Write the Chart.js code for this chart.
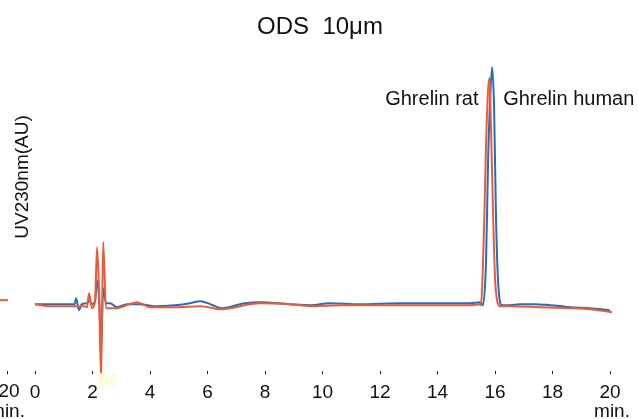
<!DOCTYPE html>
<html lang="en">
<head>
<meta charset="UTF-8" />
<title>ODS 10μm</title>
<script src="https://cdn.jsdelivr.net/npm/chart.js"></script>
<style>
  html, body { margin: 0; padding: 0; background: #fff; }
  #wrap { width: 638px; height: 419px; position: relative; }
</style>
</head>
<body>
<div id="wrap"><canvas id="chroma" width="638" height="419"></canvas></div>
<script>
// retention time (min) and absorbance (mAU, baseline = 0)
const humanTime = [0, 1.0, 1.38, 1.43, 1.53, 1.63, 1.81, 1.88, 1.98, 2.09, 2.16, 2.23, 2.30, 2.37, 2.47, 2.61, 2.85, 3.20, 3.65, 4.17, 4.87, 5.40, 5.74, 6.00, 6.26, 6.50, 7.30, 7.83, 8.87, 9.57, 10.26, 11.30, 12.70, 13.74, 15.13, 15.48, 15.58, 15.69, 15.76, 15.83, 15.90, 15.97, 16.03, 16.10, 16.24, 16.52, 16.87, 17.39, 17.91, 18.61, 19.30, 20.0];
const humanAU   = [0, 0, 0, 6, -6, 0, 1, 4, 0, 3, 24, 5, -43, 16, 1, 1, -3, 0, 0, -2, -1, 1, 3, 1, -2, -4, 1, 2, 0, -1, 1, 0, 1, 1, 1, 2, -1, 44, 144, 204, 237, 194, 94, 27, -1, -1, 0, 0, -1, -3, -4, -6];

const ratTime = [0, 0.5, 1.43, 1.53, 1.70, 1.81, 1.88, 1.98, 2.09, 2.16, 2.23, 2.30, 2.37, 2.47, 2.61, 2.85, 3.20, 3.55, 4.00, 4.87, 5.74, 6.50, 7.48, 7.83, 8.87, 9.57, 10.61, 12.0, 13.39, 15.13, 15.48, 15.51, 15.62, 15.69, 15.76, 15.81, 15.86, 15.93, 16.00, 16.07, 16.17, 16.52, 17.57, 18.61, 19.30, 20.07];
const ratAU   = [0, -2, -2, -2, -2, -3, 11, -4, 3, 57, 10, -75, 62, -4, -4, -4, -1, 2, -3, -3, -2, -5, 0, 1, 0, -2, -1, -1, -1, -1, 0, -1, 77, 161, 214, 226, 177, 94, 27, 4, -2, -2, -3, -4, -5, -8];

// tail of the neighbouring run at the left edge
const prevTime = [-1.22, -0.94];
const prevAU   = [4, 4];

const xTicks = [0, 2, 4, 6, 8, 10, 12, 14, 16, 18, 20];
const peakNames = ["Ghrelin rat", "Ghrelin human"];
const peakTimes = [15.81, 15.90];

const BLUE = "#1f6fc0";
const RED = "#ef5a35";
const FONT = "'Liberation Sans', Arial, Helvetica, sans-serif";

function toPoints(xs, ys) {
  return xs.map((x, i) => ({ x: x, y: ys[i] }));
}

const decor = {
  id: "decor",
  afterDatasetsDraw(chart) {
    const { ctx, chartArea, scales } = chart;
    const xs = scales.x;
    // pale marker box under the solvent front
    ctx.save();
    ctx.fillStyle = "#fffbe3";
    const bx0 = xs.getPixelForValue(2.16), bx1 = xs.getPixelForValue(2.85);
    ctx.fillRect(bx0, chartArea.bottom + 2, bx1 - bx0, 14);
    ctx.restore();
  },
  afterDraw(chart) {
    const { ctx, chartArea, scales } = chart;
    const xs = scales.x;
    ctx.save();
    ctx.fillStyle = "#111";
    ctx.textBaseline = "alphabetic";

    // title
    ctx.font = "24px " + FONT;
    ctx.textAlign = "center";
    ctx.fillText("ODS  10μm", 320, 34);

    // peak labels
    ctx.font = "20px " + FONT;
    ctx.textAlign = "right";
    ctx.fillText(peakNames[0], xs.getPixelForValue(peakTimes[0]) - 11, 105);
    ctx.textAlign = "left";
    ctx.fillText(peakNames[1], xs.getPixelForValue(peakTimes[1]) + 11, 105);

    // y title
    ctx.save();
    ctx.font = "19px " + FONT;
    ctx.translate(28, 177);
    ctx.rotate(-Math.PI / 2);
    ctx.textAlign = "center";
    ctx.fillText("UV230nm(AU)", 0, 0);
    ctx.restore();

    // unit under last tick, plus the neighbour's last tick on the left
    ctx.font = "19px " + FONT;
    ctx.textAlign = "center";
    const xEnd = xs.getPixelForValue(20);
    const xPrev = xs.getPixelForValue(0) - 28;
    ctx.fillText("min.", xEnd + 2, 417);
    ctx.fillText("min.", xPrev, 417);
    ctx.fillText("20", xPrev + 2, 397);
    ctx.fillRect(xPrev, chartArea.bottom, 1, 3);
    ctx.restore();
  }
};

new Chart(document.getElementById("chroma"), {
  type: "line",
  data: {
    datasets: [
      {
        label: "Ghrelin human",
        data: toPoints(humanTime, humanAU),
        borderColor: BLUE,
        borderWidth: 2,
        pointRadius: 0,
        cubicInterpolationMode: "monotone",
        clip: false,
        order: 2
      },
      {
        label: "Ghrelin rat",
        data: toPoints(ratTime, ratAU),
        borderColor: RED,
        borderWidth: 2,
        pointRadius: 0,
        cubicInterpolationMode: "monotone",
        clip: false,
        order: 1
      },
      {
        label: "prev",
        data: toPoints(prevTime, prevAU),
        borderColor: RED,
        borderWidth: 2,
        pointRadius: 0,
        clip: false,
        order: 0
      }
    ]
  },
  options: {
    responsive: false,
    animation: false,
    layout: { padding: { left: 35, right: 28, top: 60, bottom: 8 } },
    plugins: {
      legend: { display: false },
      tooltip: { enabled: false }
    },
    scales: {
      x: {
        type: "linear",
        min: 0,
        max: 20,
        afterBuildTicks: (s) => { s.ticks = xTicks.map(v => ({ value: v })); },
        border: { display: false },
        grid: { drawOnChartArea: false, drawTicks: true, tickLength: 3, tickColor: "#222", tickWidth: 1 },
        ticks: { color: "#111", font: { family: FONT, size: 19 }, padding: 7, maxRotation: 0, autoSkip: false }
      },
      y: {
        display: false,
        min: -67,
        max: 244
      }
    }
  },
  plugins: [decor]
});
</script>
</body>
</html>
